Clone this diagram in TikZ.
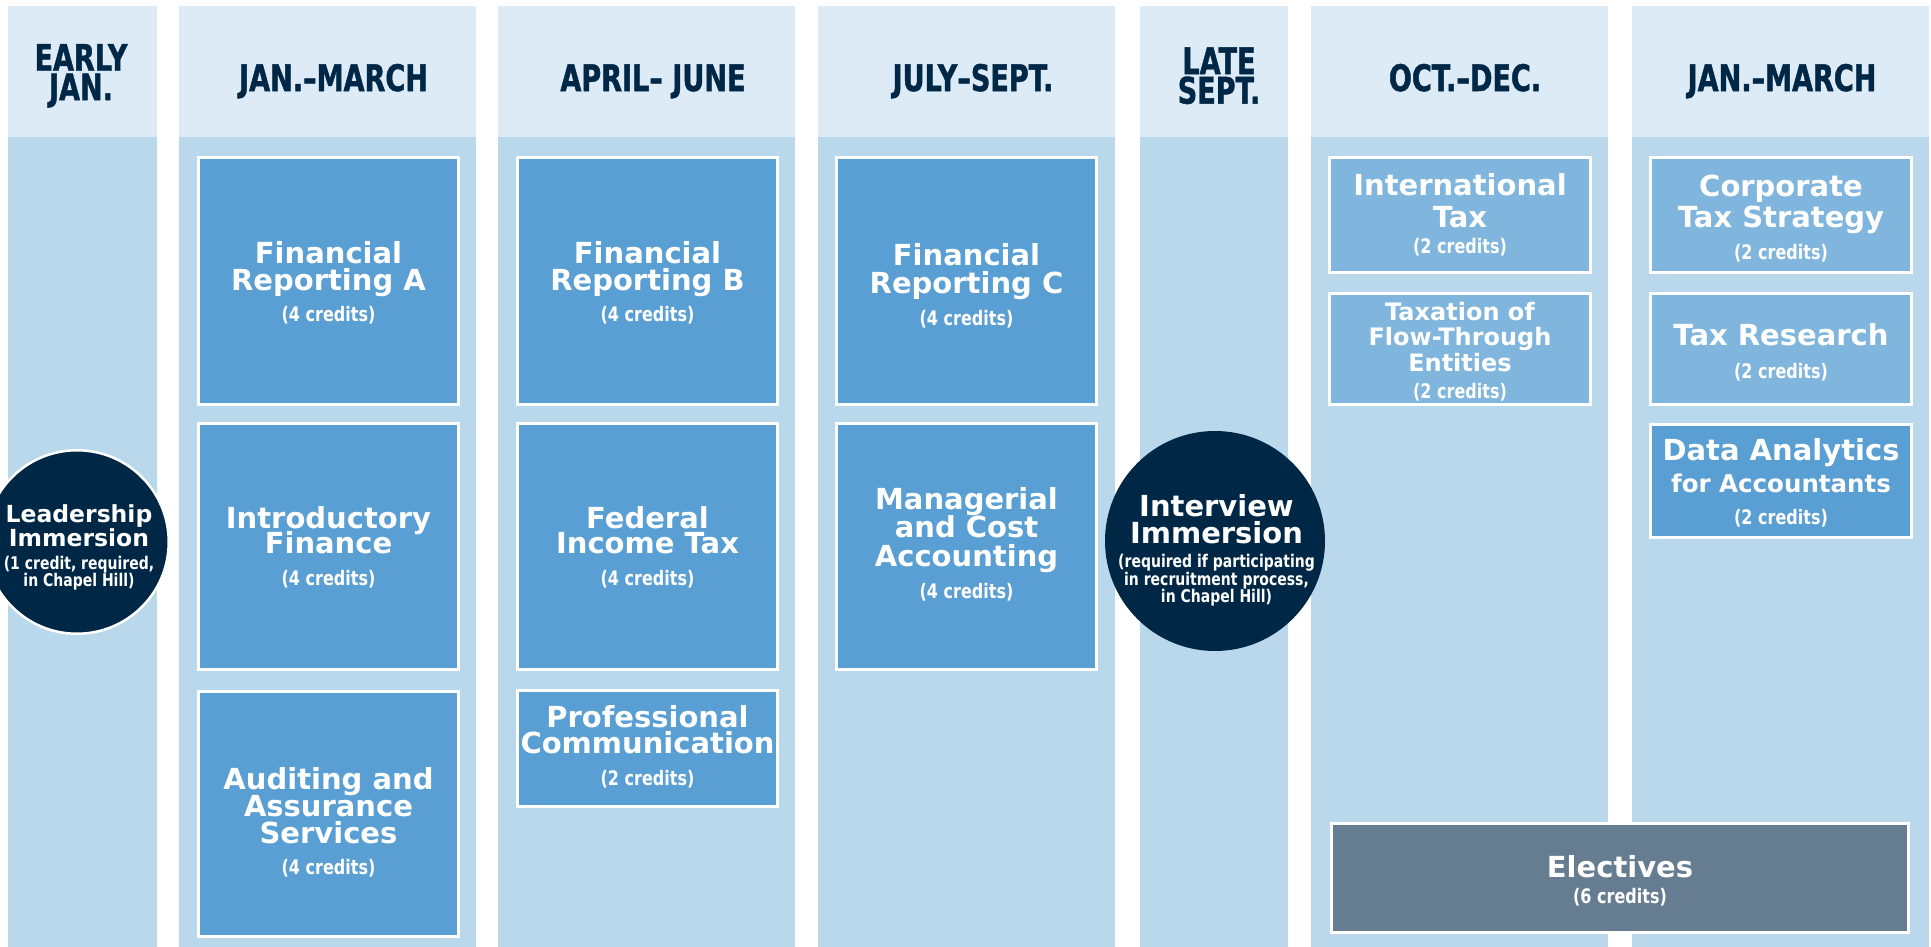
\documentclass[tikz,border=0pt]{standalone}
\usepackage{fontspec}
\newfontfamily\dv{DejaVu Sans}
\newfontfamily\dvc{DejaVu Sans}[FakeStretch=0.8]
\newfontfamily\dvh{DejaVu Sans}[FakeStretch=0.74, FakeBold=1.2]
\definecolor{hdrbg}{HTML}{DDEBF7}
\definecolor{bodybg}{HTML}{B9D8EC}
\definecolor{medblue}{HTML}{5A9FD3}
\definecolor{ltblue}{HTML}{80B6DD}
\definecolor{elecgrey}{HTML}{667D91}
\definecolor{navy}{HTML}{002846}
\newcommand\ttlfont{\dv\bfseries\fontsize{29}{26.7}\selectfont\lineskiplimit=-100pt\lineskip=0pt}
\newcommand\smallttl{\dv\bfseries\fontsize{24}{25.5}\selectfont\lineskiplimit=-100pt\lineskip=0pt}
\newcommand\leadttl{\dv\bfseries\fontsize{23.5}{24}\selectfont\lineskiplimit=-100pt\lineskip=0pt}
\newcommand\credfont{\dvc\bfseries\fontsize{20}{20}\selectfont}
\newcommand\credsm{\dvc\bfseries\fontsize{17.5}{17.5}\selectfont}
\newcommand\hdrfont{\dvh\bfseries\fontsize{36.6}{29.5}\selectfont\lineskiplimit=-100pt\lineskip=0pt}
\tikzset{
  hdr/.style={text=navy, font=\hdrfont, align=center, inner sep=0pt},
  hdrone/.style={hdr, text height=26.7pt, text depth=0pt},
  course/.style={draw=white, line width=3pt, fill=medblue, inner sep=0pt},
  taxbox/.style={course, fill=ltblue},
  elecbox/.style={course, fill=elecgrey},
  ctext/.style={text=white, align=center, inner sep=0pt, font=\ttlfont},
  immersion/.style={circle, fill=navy, inner sep=0pt}
}
\begin{document}
\begin{tikzpicture}[x=1pt,y=-1pt]
\useasboundingbox (0,0) rectangle (1931,947);
% columns
\foreach \a/\b in {8/157,179/476,498/795,818/1115,1140/1288,1311/1608,1632/1929}{
  \fill[hdrbg] (\a,6) rectangle (\b,137);
  \fill[bodybg] (\a,137) rectangle (\b,947);
}
% headers
\node[hdr] (h1) at (81,75.8) {EARLY\\JAN.};
\node[hdrone] (h2) at (333.5,77.7) {JAN.\textendash MARCH};
\node[hdrone] (h3) at (653,77.7) {APRIL\textendash\ JUNE};
\node[hdrone] (h4) at (973,77.7) {JULY\textendash SEPT.};
\node[hdr] (h5) at (1219,75.8) {LATE\\SEPT.};
\node[hdrone] (h6) at (1465,77.7) {OCT.\textendash DEC.};
\node[hdrone] (h7) at (1782,77.7) {JAN.\textendash MARCH};
% course boxes
\node[course, minimum width=260pt, minimum height=247pt] (finA) at (328.5,281) {};
\node[course, minimum width=260pt, minimum height=246pt] (intro) at (328.5,546.5) {};
\node[course, minimum width=260pt, minimum height=245pt] (audit) at (328.5,814) {};
\node[course, minimum width=260pt, minimum height=247pt] (finB) at (647.5,281) {};
\node[course, minimum width=260pt, minimum height=246pt] (fedtax) at (647.5,546.5) {};
\node[course, minimum width=260pt, minimum height=116pt] (profcomm) at (647.5,748.5) {};
\node[course, minimum width=260pt, minimum height=247pt] (finC) at (966.5,281) {};
\node[course, minimum width=260pt, minimum height=246pt] (mgr) at (966.5,546.5) {};
\node[taxbox, minimum width=261pt, minimum height=115pt] (intl) at (1460,215) {};
\node[taxbox, minimum width=261pt, minimum height=111pt] (flow) at (1460,349) {};
\node[taxbox, minimum width=261pt, minimum height=115pt] (corp) at (1781,215) {};
\node[taxbox, minimum width=261pt, minimum height=111pt] (taxres) at (1781,349) {};
\node[course, minimum width=261pt, minimum height=113pt] (data) at (1781,481) {};
\node[elecbox, minimum width=577pt, minimum height=109pt] (elect) at (1620,878) {};
% immersion circles
\node[immersion, draw=white, line width=2.5pt, minimum size=183.5pt] (lead) at (77,542) {};
\node[immersion, minimum size=220pt] (interview) at (1215,541) {};
% texts
\node[ctext] (finA-t) at (328.5,283) {Financial\\Reporting A\\[5pt]{\credfont (4 credits)}};
\node[ctext] (intro-t) at (328.5,547) {Introductory\\[-1pt]Finance\\[5pt]{\credfont (4 credits)}};
\node[ctext] (audit-t) at (328.5,822.5) {Auditing and\\Assurance\\Services\\[5pt]{\credfont (4 credits)}};
\node[ctext] (finB-t) at (647.5,283) {Financial\\Reporting B\\[5pt]{\credfont (4 credits)}};
\node[ctext] (fedtax-t) at (647.5,547) {Federal\\[-1pt]Income Tax\\[5pt]{\credfont (4 credits)}};
\node[ctext] (profcomm-t) at (647.5,747) {Professional\\[-0.7pt]Communication\\[5pt]{\credfont (2 credits)}};
\node[ctext] (finC-t) at (966.5,285.7) {Financial\\[2pt]Reporting C\\[5pt]{\credfont (4 credits)}};
\node[ctext] (mgr-t) at (966.5,544) {Managerial\\[2pt]and Cost\\[2pt]Accounting\\[5pt]{\credfont (4 credits)}};
\node[ctext] (intl-t) at (1460,215) {International\\[5pt]Tax\\{\credfont (2 credits)}};
\node[ctext, font=\smallttl] (flow-t) at (1460,351.5) {Taxation of\\Flow-Through\\Entities\\[1.2pt]{\credfont (2 credits)}};
\node[ctext] (corp-t) at (1781,218.5) {Corporate\\[4.3pt]Tax Strategy\\[5.6pt]{\credfont (2 credits)}};
\node[ctext] (taxres-t) at (1781,352.5) {Tax Research\\[6.3pt]{\credfont (2 credits)}};
\node[ctext] (data-t) at (1781,482.5) {Data Analytics\\[5.3pt]{\fontsize{24.5}{24.5}\selectfont for Accountants}\\[5pt]{\credfont (2 credits)}};
\node[ctext] (elect-t) at (1620,881) {Electives\\[-1pt]{\credfont (6 credits)}};
\node[ctext, font=\leadttl] (lead-t) at (79,547.5) {Leadership\\Immersion\\[-1pt]{\credsm (1 credit, required,}\\[-6.5pt]{\credsm in Chapel Hill)}};
\node[ctext] (interview-t) at (1216.5,550.5) {Interview\\Immersion\\[-2.7pt]{\credsm (required if participating}\\[-9.2pt]{\credsm in recruitment process,}\\[-9.2pt]{\credsm in Chapel Hill)}};
\end{tikzpicture}
\end{document}
